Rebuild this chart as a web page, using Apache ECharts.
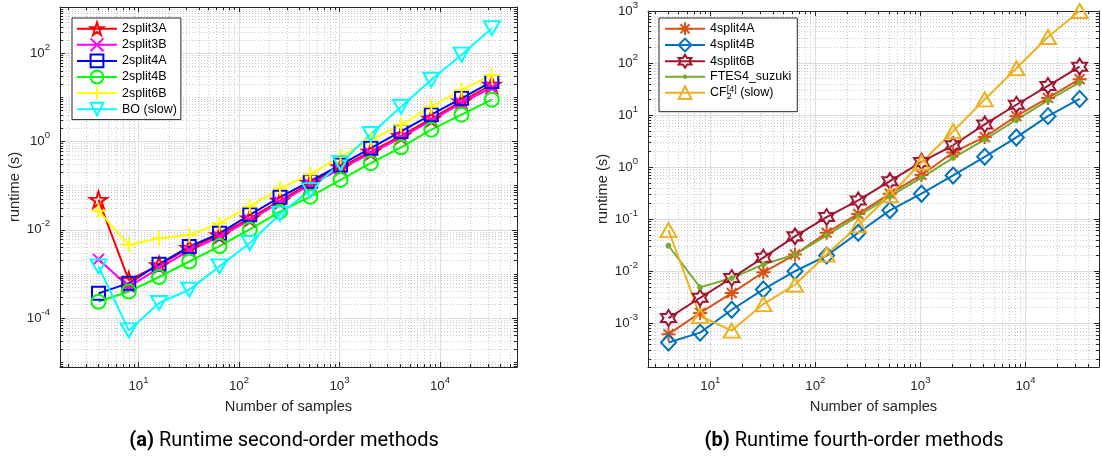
<!DOCTYPE html>
<html>
<head>
<meta charset="utf-8">
<script src="https://cdn.jsdelivr.net/npm/echarts@6/dist/echarts.min.js"></script>
<style>
  html, body { margin: 0; padding: 0; background: #fff; }
  #chart { width: 1102px; height: 463px; }
</style>
</head>
<body>
<div id="chart"></div>
<script>
// Number of samples (x axis of both panels)
const samples = [4, 8, 16, 32, 64, 128, 256, 512, 1024, 2048, 4096, 8192, 16384, 32768];

// (a) second-order methods, runtime in seconds
const split3A = [0.0479, 0.000724, 0.00158, 0.00389, 0.00759, 0.0182, 0.0457, 0.115, 0.263, 0.589, 1.35, 3.31, 8.13, 19.5];
const split3B = [0.00214, 0.000513, 0.00135, 0.00339, 0.00692, 0.0166, 0.0417, 0.105, 0.240, 0.537, 1.23, 3.02, 7.41, 16.6];
const split4A = [0.000363, 0.000617, 0.00166, 0.00417, 0.00832, 0.0219, 0.0550, 0.126, 0.295, 0.708, 1.70, 4.07, 9.55, 22.9];
const split4B = [0.000234, 0.000398, 0.000851, 0.00191, 0.00427, 0.0102, 0.0257, 0.0562, 0.135, 0.324, 0.741, 1.86, 4.07, 8.91];
const split6B = [0.0269, 0.00457, 0.00646, 0.00759, 0.0141, 0.0339, 0.0871, 0.182, 0.457, 1.10, 2.40, 6.17, 14.8, 32.4];
const boSlow  = [0.00148, 0.0000525, 0.000219, 0.000437, 0.00148, 0.00501, 0.0229, 0.0794, 0.324, 1.48, 6.17, 25.1, 93.3, 372];

// (b) fourth-order methods, runtime in seconds
const split4A4 = [0.000617, 0.00158, 0.00380, 0.00955, 0.0209, 0.0550, 0.126, 0.309, 0.708, 1.91, 3.80, 9.55, 21.4, 49.0];
const split4B4 = [0.000427, 0.000661, 0.00182, 0.00447, 0.0100, 0.0200, 0.0550, 0.148, 0.309, 0.692, 1.58, 3.72, 9.55, 20.4];
const split6B4 = [0.00126, 0.00309, 0.00741, 0.0182, 0.0468, 0.110, 0.229, 0.537, 1.26, 2.63, 6.61, 15.8, 36.3, 85.1];
const ftes4Suzuki = [0.0309, 0.00490, 0.00741, 0.0135, 0.0209, 0.0490, 0.115, 0.275, 0.631, 1.51, 3.39, 8.13, 19.1, 42.7];
const cf24Slow = [0.0617, 0.00138, 0.000724, 0.00234, 0.00550, 0.0209, 0.0759, 0.288, 1.23, 4.90, 20.0, 79.4, 316, 1000];

// Decade exponents carrying tick labels
const xTickExpA = [1, 2, 3, 4];
const yTickExpA = [-4, -2, 0, 2];
const xTickExpB = [1, 2, 3, 4];
const yTickExpB = [-3, -2, -1, 0, 1, 2, 3];

const CF_NAME = 'CF2[4] (slow)';

const FONT = '"Liberation Sans", Arial, Helvetica, sans-serif';
const CAP_FONT = 'Roboto, "Liberation Sans", sans-serif';
const AX = '#262626';
const lg = Math.log10;

// Marker outlines
function starPath(n, inner) {
  const pts = [];
  for (let i = 0; i < 2 * n; i++) {
    const a = -Math.PI / 2 + i * Math.PI / n;
    const r = i % 2 ? inner : 1;
    pts.push((10 + 10 * r * Math.cos(a)).toFixed(3) + ' ' + (10 + 10 * r * Math.sin(a)).toFixed(3));
  }
  return 'path://M' + pts.join('L') + 'Z';
}
const SYM = {
  pentagram: starPath(5, 0.382),
  hexagram: starPath(6, 0.5774),
  cross: 'path://M0 0L10 10M10 0L0 10',
  plus: 'path://M5 0L5 10M0 5L10 5',
  asterisk: 'path://M5 0L5 10M0 5L10 5M1.46 1.46L8.54 8.54M8.54 1.46L1.46 8.54',
  triDown: 'path://M0 0L10 0L5 8.66Z',
  triUp: 'path://M5 0L10 8.66L0 8.66Z',
  dot: 'path://M0 0M10 10M5 3.2A1.8 1.8 0 1 1 4.99 3.2Z'
};

function series(name, values, color, symbol, size, g, filled) {
  return {
    type: 'line', name: name,
    xAxisIndex: g * 4, yAxisIndex: g * 4,
    data: samples.map((n, i) => [lg(n), lg(values[i])]),
    symbol: symbol, symbolSize: size, showAllSymbol: true, clip: false,
    lineStyle: { color: color, width: 2 },
    itemStyle: filled ? { color: color, borderWidth: 0 }
                      : { color: 'transparent', borderColor: color, borderWidth: 2 },
    emphasis: { disabled: true }, silent: true, animation: false
  };
}
function legendItem(name, color, filled) {
  return {
    name: name,
    itemStyle: filled ? { color: color, borderWidth: 0 }
                      : { color: 'transparent', borderColor: color, borderWidth: 2 },
    lineStyle: { color: color, width: 2 }
  };
}

function minorValues(lo, hi, skipMajor) {
  const out = [];
  for (let d = Math.floor(lo) - 1; d <= Math.ceil(hi); d++) {
    for (let k = 1; k <= 9; k++) {
      const v = d + lg(k);
      if (v <= lo || v >= hi) continue;
      if (k === 1 && skipMajor(d)) continue;
      out.push(v);
    }
  }
  return out;
}

const tickFmt = v => '{b|10}{s|' + v + '}';
const tickRich = {
  b: { fontSize: 13.3, fontFamily: FONT, color: AX, lineHeight: 22 },
  s: { fontSize: 9.5, fontFamily: FONT, color: AX, lineHeight: 10, verticalAlign: 'top' }
};
const nameStyle = { fontSize: 14.7, fontFamily: FONT, color: AX };

function axesFor(g, xr, yr, xMaj, yMaj, yMinorSkipOdd) {
  const xMin = minorValues(xr[0], xr[1], d => true);
  const yMin = minorValues(yr[0], yr[1], d => !yMinorSkipOdd || d % 2 === 0);
  const base = { type: 'value', gridIndex: g, axisLine: { show: false, onZero: false },
                 axisLabel: { show: false }, splitLine: { show: false } };
  const majorLine = { show: true, onZero: false, lineStyle: { color: AX, width: 1 } };
  const majTick = vals => ({ show: true, inside: true, length: 5, customValues: vals, lineStyle: { color: AX, width: 1 } });
  const minTick = vals => ({ show: true, inside: true, length: 3, customValues: vals, lineStyle: { color: AX, width: 1 } });
  const majGrid = { show: true, lineStyle: { color: '#dddddd', width: 1 } };
  const minGrid = { show: true, lineStyle: { color: '#cacaca', width: 1, type: [1, 2] } };
  const xs = [
    Object.assign({}, base, { min: xr[0], max: xr[1], position: 'bottom', axisLine: majorLine,
      axisTick: majTick(xMaj), splitLine: majGrid,
      axisLabel: { show: true, customValues: xMaj, formatter: tickFmt, rich: tickRich, margin: 8 },
      name: 'Number of samples', nameLocation: 'middle', nameGap: 32, nameTextStyle: nameStyle }),
    Object.assign({}, base, { min: xr[0], max: xr[1], position: 'bottom', axisTick: minTick(xMin), splitLine: minGrid }),
    Object.assign({}, base, { min: xr[0], max: xr[1], position: 'top', axisLine: majorLine, axisTick: majTick(xMaj) }),
    Object.assign({}, base, { min: xr[0], max: xr[1], position: 'top', axisTick: minTick(xMin) })
  ];
  const ys = [
    Object.assign({}, base, { min: yr[0], max: yr[1], position: 'left', axisLine: majorLine,
      axisTick: majTick(yMaj), splitLine: majGrid,
      axisLabel: { show: true, customValues: yMaj, formatter: tickFmt, rich: tickRich, margin: 10 },
      name: 'runtime (s)', nameLocation: 'middle', nameGap: 37, nameTextStyle: nameStyle }),
    Object.assign({}, base, { min: yr[0], max: yr[1], position: 'left', axisTick: minTick(yMin), splitLine: minGrid }),
    Object.assign({}, base, { min: yr[0], max: yr[1], position: 'right', axisLine: majorLine, axisTick: majTick(yMaj) }),
    Object.assign({}, base, { min: yr[0], max: yr[1], position: 'right', axisTick: minTick(yMin) })
  ];
  return { xs, ys };
}

const A = axesFor(0, [0.219, 4.766], [-5.11, 3.05], xTickExpA, yTickExpA, true);
const B = axesFor(1, [0.407, 4.70], [-3.84, 3.0], xTickExpB, yTickExpB, false);

const C = {
  red: '#ff0000', magenta: '#ff00ff', blue: '#0000ff', green: '#00ff00', yellow: '#ffff00', cyan: '#00ffff',
  orange: '#D95319', mblue: '#0072BD', wine: '#A2142F', mgreen: '#77AC30', gold: '#EDB120'
};

const legendText = { fontSize: 12.5, fontFamily: FONT, color: '#000',
  rich: {
    t: { fontSize: 12.5, fontFamily: FONT, color: '#000', lineHeight: 16 },
    sb: { fontSize: 9, fontFamily: FONT, color: '#000', lineHeight: 2, verticalAlign: 'bottom', width: 0.01 },
    sp: { fontSize: 9, fontFamily: FONT, color: '#000', lineHeight: 2, verticalAlign: 'top' }
  } };
const legendBase = { orient: 'vertical', itemWidth: 40, itemHeight: 16, itemGap: 1.3,
  borderColor: AX, borderWidth: 1, backgroundColor: '#fff', selectedMode: false,
  textStyle: legendText,
  formatter: name => name === CF_NAME ? '{t|CF}{sb|2}{sp|[4]}{t| (slow)}' : name };

const option = {
  animation: false,
  grid: [
    { left: 60, top: 7, width: 457, height: 360 },
    { left: 648, top: 7, width: 451, height: 360 }
  ],
  xAxis: A.xs.concat(B.xs),
  yAxis: A.ys.concat(B.ys),
  legend: [
    Object.assign({}, legendBase, { left: 72, top: 18, padding: [3.3, 4, 3, 4],
      data: [legendItem('2split3A', C.red), legendItem('2split3B', C.magenta), legendItem('2split4A', C.blue),
             legendItem('2split4B', C.green), legendItem('2split6B', C.yellow), legendItem('BO (slow)', C.cyan)] }),
    Object.assign({}, legendBase, { left: 659, top: 18, padding: [3.3, 6, 11, 5], itemGap: 1.5,
      data: [legendItem('4split4A', C.orange), legendItem('4split4B', C.mblue), legendItem('4split6B', C.wine),
             legendItem('FTES4_suzuki', C.mgreen, true), legendItem(CF_NAME, C.gold)] })
  ],
  series: [
    series('2split3A', split3A, C.red, SYM.pentagram, [17, 16.2], 0),
    series('2split3B', split3B, C.magenta, SYM.cross, 11, 0),
    series('2split4A', split4A, C.blue, 'rect', 13, 0),
    series('2split4B', split4B, C.green, 'circle', 14, 0),
    series('2split6B', split6B, C.yellow, SYM.plus, 15, 0),
    series('BO (slow)', boSlow, C.cyan, SYM.triDown, [16, 14], 0),
    series('4split4A', split4A4, C.orange, SYM.asterisk, 14, 1),
    series('4split4B', split4B4, C.mblue, 'diamond', [15, 16], 1),
    series('4split6B', split6B4, C.wine, SYM.hexagram, [15, 16], 1),
    series('FTES4_suzuki', ftes4Suzuki, C.mgreen, SYM.dot, 16, 1, true),
    series(CF_NAME, cf24Slow, C.gold, SYM.triUp, [16, 14], 1)
  ],
  graphic: [
    { type: 'text', x: 284, y: 441, silent: true,
      style: { text: '{b|(a)} Runtime second-order methods', fontSize: 20, fontFamily: CAP_FONT, fill: '#000',
               align: 'center', verticalAlign: 'middle',
               rich: { b: { fontSize: 20, fontFamily: CAP_FONT, fontWeight: 'bold', fill: '#000' } } } },
    { type: 'text', x: 854, y: 441, silent: true,
      style: { text: '{b|(b)} Runtime fourth-order methods', fontSize: 20, fontFamily: CAP_FONT, fill: '#000',
               align: 'center', verticalAlign: 'middle',
               rich: { b: { fontSize: 20, fontFamily: CAP_FONT, fontWeight: 'bold', fill: '#000' } } } }
  ]
};

const chart = echarts.init(document.getElementById('chart'), null, { renderer: 'canvas' });
chart.setOption(option);
</script>
</body>
</html>
